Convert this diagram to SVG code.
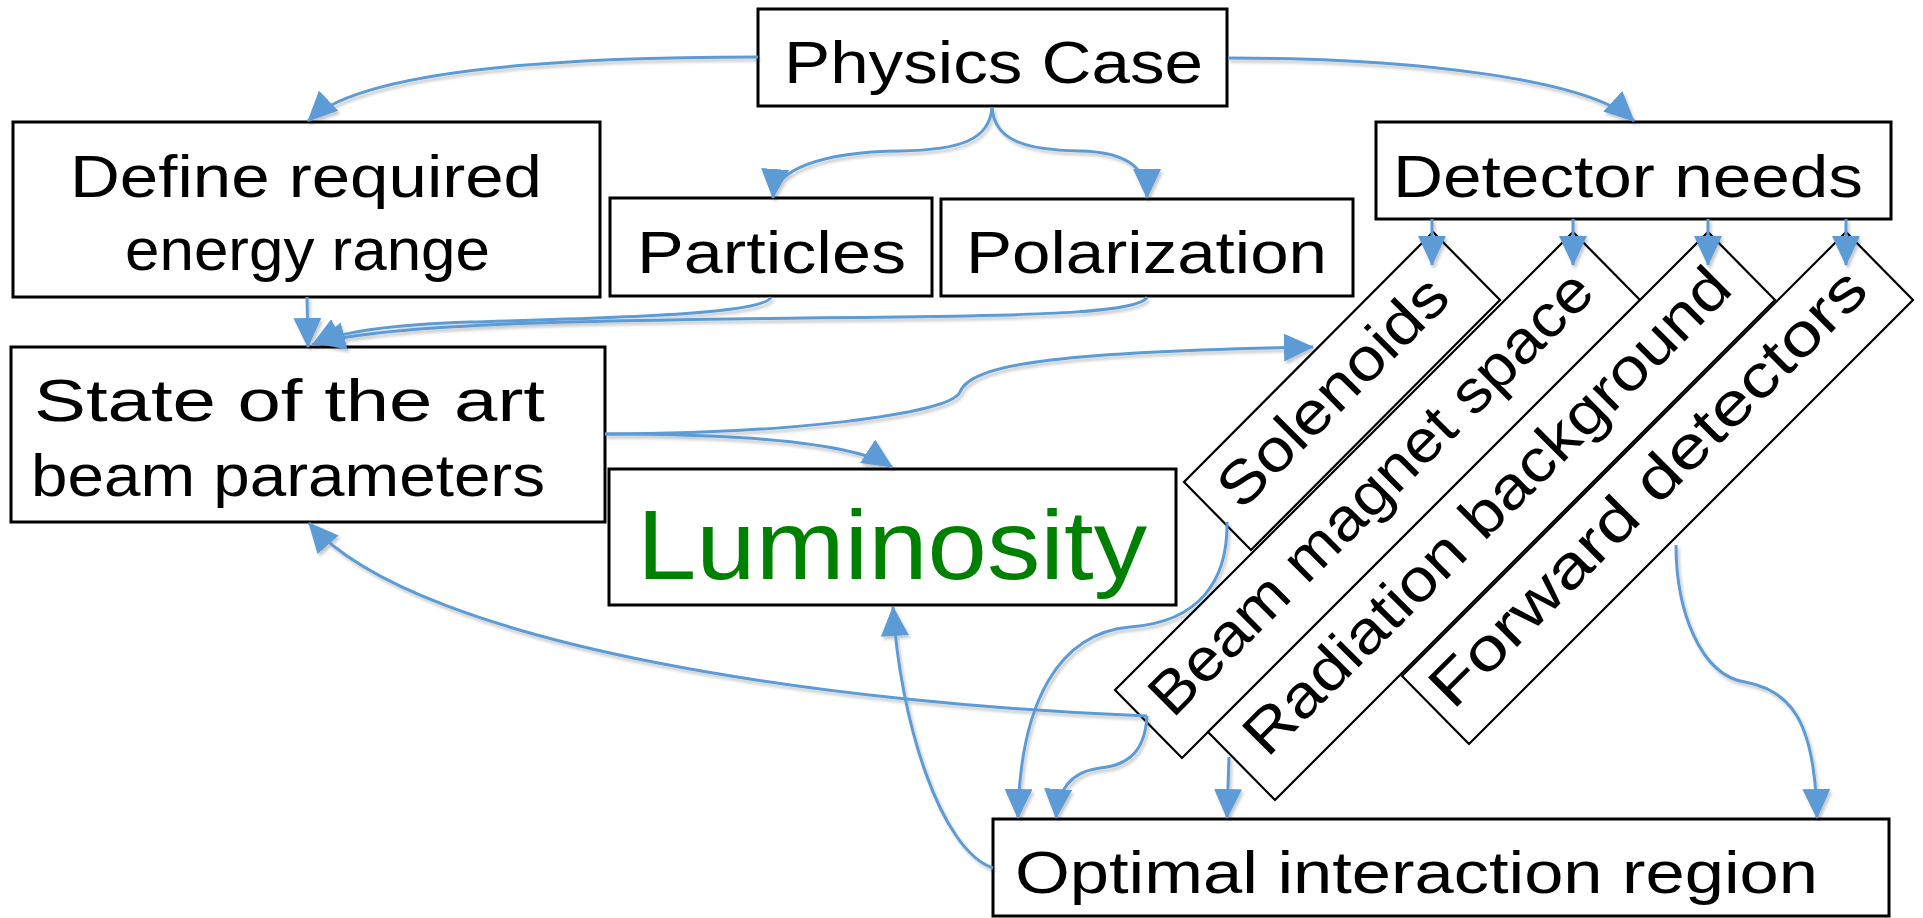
<svg xmlns="http://www.w3.org/2000/svg" width="1923" height="918" viewBox="0 0 1923 918">
<defs>
<style>
.box{fill:#ffffff;stroke:#000000;stroke-width:3}
.strip{fill:#ffffff;stroke:#000000;stroke-width:2.2}
.t{font-family:"Liberation Sans",Arial,sans-serif;font-size:60px;fill:#000000}
.lum{font-family:"Liberation Sans",Arial,sans-serif;font-size:98px;fill:#008000}
.c{fill:none;stroke:#5b9bd5;stroke-width:3;marker-end:url(#ah)}
</style>
<marker id="ah" markerUnits="userSpaceOnUse" markerWidth="30" markerHeight="28" viewBox="0 0 30 28" refX="29" refY="14" orient="auto">
<path d="M0,0 L30,14 L0,28 z" fill="#5b9bd5"/>
</marker>
<filter id="sh" x="-10%" y="-10%" width="120%" height="120%">
<feDropShadow dx="2" dy="3" stdDeviation="1.8" flood-color="#000000" flood-opacity="0.22"/>
</filter>
</defs>
<rect width="1923" height="918" fill="#ffffff"/>

<g id="physics-case">
<rect class="box" x="758" y="9" width="469" height="97"/>
<text class="t" x="784" y="83" textLength="419" lengthAdjust="spacingAndGlyphs">Physics Case</text>
</g>
<g id="define-energy">
<rect class="box" x="13" y="122" width="587" height="175"/>
<text class="t" x="70" y="197" textLength="472" lengthAdjust="spacingAndGlyphs">Define required</text>
<text class="t" x="125" y="270" textLength="365" lengthAdjust="spacingAndGlyphs">energy range</text>
</g>
<g id="particles">
<rect class="box" x="610" y="198" width="322" height="98"/>
<text class="t" x="637" y="273" textLength="269" lengthAdjust="spacingAndGlyphs">Particles</text>
</g>
<g id="polarization">
<rect class="box" x="941" y="199" width="412" height="97"/>
<text class="t" x="966" y="273" textLength="361" lengthAdjust="spacingAndGlyphs">Polarization</text>
</g>
<g id="detector-needs">
<rect class="box" x="1376" y="122" width="515" height="97"/>
<text class="t" x="1393" y="197" textLength="470" lengthAdjust="spacingAndGlyphs">Detector needs</text>
</g>
<g id="state-of-art">
<rect class="box" x="11" y="347" width="594" height="175"/>
<text class="t" x="34" y="421" textLength="511" lengthAdjust="spacingAndGlyphs">State of the art</text>
<text class="t" x="31" y="496" textLength="514" lengthAdjust="spacingAndGlyphs">beam parameters</text>
</g>
<g id="luminosity">
<rect class="box" x="609" y="469" width="567" height="136"/>
<text class="lum" x="637" y="579" textLength="510" lengthAdjust="spacingAndGlyphs">Luminosity</text>
</g>
<g id="optimal-ir">
<rect class="box" x="993" y="819" width="896" height="97"/>
<text class="t" x="1015" y="893" textLength="803" lengthAdjust="spacingAndGlyphs">Optimal interaction region</text>
</g>
<g id="solenoids">
<polygon class="strip" points="1433,232 1500,300 1251,550 1184,482"/>
<text class="t" text-anchor="middle" transform="translate(1347,406) rotate(-45)" textLength="299" lengthAdjust="spacingAndGlyphs">Solenoids</text>
</g>
<g id="beam-magnet-space">
<polygon class="strip" points="1573,232 1640,300 1182,758 1115,690"/>
<text class="t" text-anchor="middle" transform="translate(1385,507) rotate(-45)" textLength="600" lengthAdjust="spacingAndGlyphs">Beam magnet space</text>
</g>
<g id="radiation-background">
<polygon class="strip" points="1708,232 1775,300 1275,800 1208,732"/>
<text class="t" text-anchor="middle" transform="translate(1501,525) rotate(-45)" textLength="661" lengthAdjust="spacingAndGlyphs">Radiation background</text>
</g>
<g id="forward-detectors">
<polygon class="strip" points="1846,232 1913,300 1469,744 1402,676"/>
<text class="t" text-anchor="middle" transform="translate(1662,502) rotate(-45)" textLength="591" lengthAdjust="spacingAndGlyphs">Forward detectors</text>
</g>

<g id="connectors" filter="url(#sh)">
<path class="c" d="M758,57 C560,57 360,70 308,121"/>
<path class="c" d="M1228,58 C1420,58 1590,80 1634,121"/>
<path class="c" d="M992,107 C990,140 960,150 900,151 C820,152 775,170 773,198"/>
<path class="c" d="M992,107 C994,140 1024,150 1080,151 C1130,152 1147,170 1147,198"/>
<path class="c" d="M307,297 L308,347"/>
<path class="c" d="M771,297 C765,315 600,318 470,322 C380,325 335,333 312,345"/>
<path class="c" d="M1147,297 C1140,312 1050,315 900,317 C600,320 400,322 316,343"/>
<path class="c" d="M605,434 C780,434 950,415 960,392 C970,365 1050,352 1313,347"/>
<path class="c" d="M605,434 C720,434 850,440 892,467"/>
<path class="c" d="M1147,716 C850,705 420,650 309,523"/>
<path class="c" d="M1147,716 C1145,750 1130,765 1100,768 C1070,772 1058,790 1056,818"/>
<path class="c" d="M1227,522 C1228,580 1200,622 1130,627 C1060,633 1020,700 1018,818"/>
<path class="c" d="M1229,757 L1227,818"/>
<path class="c" d="M1676,545 C1676,610 1700,675 1745,682 C1790,690 1815,720 1817,818"/>
<path class="c" d="M993,868 C940,850 900,720 893,607"/>
<path class="c" d="M1432,219 L1432,265"/>
<path class="c" d="M1573,219 L1573,265"/>
<path class="c" d="M1708,219 L1708,265"/>
<path class="c" d="M1846,219 L1846,265"/>
</g>
</svg>
